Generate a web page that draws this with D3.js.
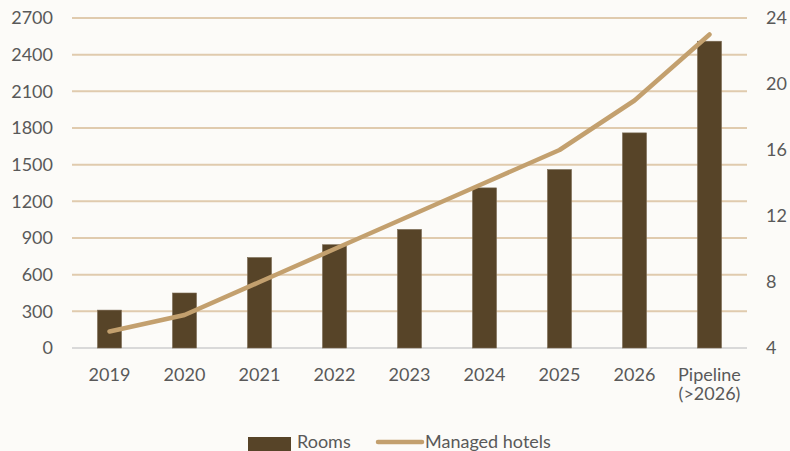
<!DOCTYPE html>
<html><head><meta charset="utf-8">
<script src="https://cdn.jsdelivr.net/npm/d3@7"></script>
<style>
html,body{margin:0;padding:0;background:#FCFBF8;}
svg{display:block;font-family:Lato,"Open Sans",sans-serif;}
</style></head>
<body><svg id="c" width="790" height="451"></svg>
<script>
const categories = ["2019","2020","2021","2022","2023","2024","2025","2026","Pipeline\n(>2026)"];
const rooms = [310, 450, 740, 845, 970, 1310, 1460, 1760, 2510];
const hotels = [5, 6, 8, 10, 12, 14, 16, 19, 23];
const leftTicks = [0,300,600,900,1200,1500,1800,2100,2400,2700];
const rightTicks = [4,8,12,16,20,24];
const seriesNames = ["Rooms","Managed hotels"];

const svg = d3.select("#c");
const L = 72, R = 747, T = 18, B = 348;
const x = d3.scaleBand().domain(categories).range([L,R]).paddingInner(0.68).paddingOuter(0.34);
const y = d3.scaleLinear().domain([0,2700]).range([B,T]);
const y2 = d3.scaleLinear().domain([4,24]).range([B,T]);
const txt = "#595959";

// gridlines
svg.append("g").selectAll("line").data(leftTicks.filter(d=>d>0)).join("line")
  .attr("x1",L).attr("x2",R).attr("y1",d=>y(d)).attr("y2",d=>y(d))
  .attr("stroke","#E0CBAE").attr("stroke-width",2);
svg.append("line").attr("x1",L).attr("x2",R).attr("y1",y(0)).attr("y2",y(0))
  .attr("stroke","#D9D9D9").attr("stroke-width",2);

// left axis
const ax = d3.axisLeft(y).tickValues(leftTicks).tickFormat(d3.format("d")).tickSize(0).tickPadding(19);
const gl = svg.append("g").attr("transform",`translate(${L},0)`).call(ax);
gl.select(".domain").remove();
gl.selectAll("text").attr("fill",txt).style("font-size","18px").style("font-family","Lato");

const ax2 = d3.axisRight(y2).tickValues(rightTicks).tickFormat(d3.format("d")).tickSize(0).tickPadding(19);
const gr = svg.append("g").attr("transform",`translate(${R},0)`).call(ax2);
gr.select(".domain").remove();
gr.selectAll("text").attr("fill",txt).style("font-size","18px").style("font-family","Lato");

// bars
svg.append("g").selectAll("rect").data(categories).join("rect")
  .attr("x",d=>x(d)).attr("width",x.bandwidth())
  .attr("y",(d,i)=>y(rooms[i])).attr("height",(d,i)=>B-y(rooms[i]))
  .attr("fill","#574428").attr("stroke","#7a6a52").attr("stroke-width",0.6);

// line
const cx = d=>x(d)+x.bandwidth()/2;
svg.append("path").datum(categories)
  .attr("d",d3.line().x(d=>cx(d)).y((d,i)=>y2(hotels[i])))
  .attr("fill","none").attr("stroke","#C3A06E").attr("stroke-width",4.5)
  .attr("stroke-linecap","round").attr("stroke-linejoin","round");

// x labels
const xl = svg.append("g");
categories.forEach(c=>{
  const t = xl.append("text").attr("x",cx(c)).attr("y",381).attr("text-anchor","middle")
    .attr("fill",txt).style("font-size","18px");
  c.split("\n").forEach((s,i)=>t.append("tspan").attr("x",cx(c)).attr("dy",i?19:0).text(s));
});

// legend
const lg = svg.append("g");
lg.append("rect").attr("x",248).attr("y",437).attr("width",43).attr("height",16).attr("fill","#574428");
lg.append("text").attr("x",297).attr("y",448).attr("fill",txt).style("font-size","18px").text(seriesNames[0]);
lg.append("line").attr("x1",378).attr("x2",422).attr("y1",442).attr("y2",442)
  .attr("stroke","#C3A06E").attr("stroke-width",4.5).attr("stroke-linecap","round");
lg.append("text").attr("x",425).attr("y",448).attr("fill",txt).style("font-size","18px").text(seriesNames[1]);
</script></body></html>
